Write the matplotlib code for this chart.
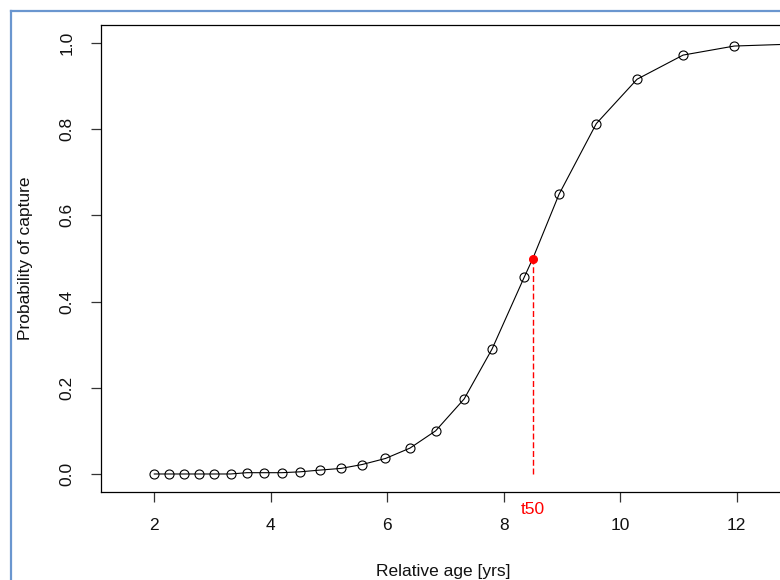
import matplotlib.pyplot as plt
from matplotlib.lines import Line2D

plt.rcParams['font.family'] = ['Liberation Sans', 'DejaVu Sans']

# ========= Datos ========= #

edades = [2.00, 2.26, 2.51, 2.77, 3.03, 3.31, 3.59, 3.88, 4.19, 4.50,
          4.84, 5.21, 5.57, 5.97, 6.39, 6.83, 7.32, 7.80, 8.35, 8.95,
          9.59, 10.29, 11.08, 11.96]
probabilidades = [0.000, 0.000, 0.000, 0.000, 0.000, 0.000, 0.003, 0.003, 0.003, 0.005,
                  0.009, 0.013, 0.022, 0.036, 0.060, 0.100, 0.174, 0.290, 0.456, 0.649,
                  0.813, 0.916, 0.972, 0.993]

t50 = 8.5
p50 = 0.5
# extremo derecho de la curva (sale del recorte)
edad_fin = 12.85
prob_fin = 0.997

x_ticks = [2, 4, 6, 8, 10, 12]
y_ticks = [0.0, 0.2, 0.4, 0.6, 0.8, 1.0]

# ========== Grafico ========== #

fig = plt.figure(figsize=(7.8, 5.8), dpi=100)
W, H = 780, 580
ax = fig.add_axes([101 / W, (H - 492) / H, (785 - 101) / W, (492 - 25) / H])

# curva ajustada: pasa por los puntos y por t50
curva_x = edades + [t50, edad_fin]
curva_y = probabilidades + [p50, prob_fin]
curva_x, curva_y = zip(*sorted(zip(curva_x, curva_y)))
ax.plot(curva_x, curva_y, color='black', lw=0.8, zorder=2)
ax.plot(edades, probabilidades, 'o', ms=6.5, mfc='none', mec='black', mew=0.8, zorder=3)

ax.plot([t50, t50], [0, p50], color='#ff0000', lw=1.0, linestyle=(0, (4.3, 2.0)), zorder=2)
ax.plot([t50], [p50], 'o', ms=5.5, color='#ff0000', zorder=4)
ax.text(t50, -0.0835, 't50', color='#ff0000', fontsize=12.5, ha='center', va='center',
        clip_on=False)

ax.set_xlim(1.085, 12.83)
ax.set_ylim(-0.0418, 1.0418)
ax.set_xticks(x_ticks)
ax.set_yticks(y_ticks)
ax.set_xticklabels([str(t) for t in x_ticks])
ax.set_yticklabels([f'{t:.1f}' for t in y_ticks])
ax.tick_params(axis='both', direction='out', length=7.5, width=0.9, color='#333333',
               labelsize=12.5, pad=11.5, labelcolor='#111111')
ax.tick_params(axis='y', labelrotation=90)
for label in ax.get_yticklabels():
    label.set_va('center')

for spine in ax.spines.values():
    spine.set_linewidth(0.9)
    spine.set_color('black')

ax.set_xlabel('Relative age [yrs]', fontsize=12.5, labelpad=22, color='#111111')
ax.set_ylabel('Probability of capture', fontsize=12.5, labelpad=19, color='#111111')

# marco azul de la captura
fig.add_artist(Line2D([11 / W, 11 / W], [0, 1 - 11 / H], transform=fig.transFigure,
                      color='#6a96cf', lw=1.6))
fig.add_artist(Line2D([11 / W, 1], [1 - 11 / H, 1 - 11 / H], transform=fig.transFigure,
                      color='#6a96cf', lw=1.6))

fig.savefig('out.png', dpi=100)
